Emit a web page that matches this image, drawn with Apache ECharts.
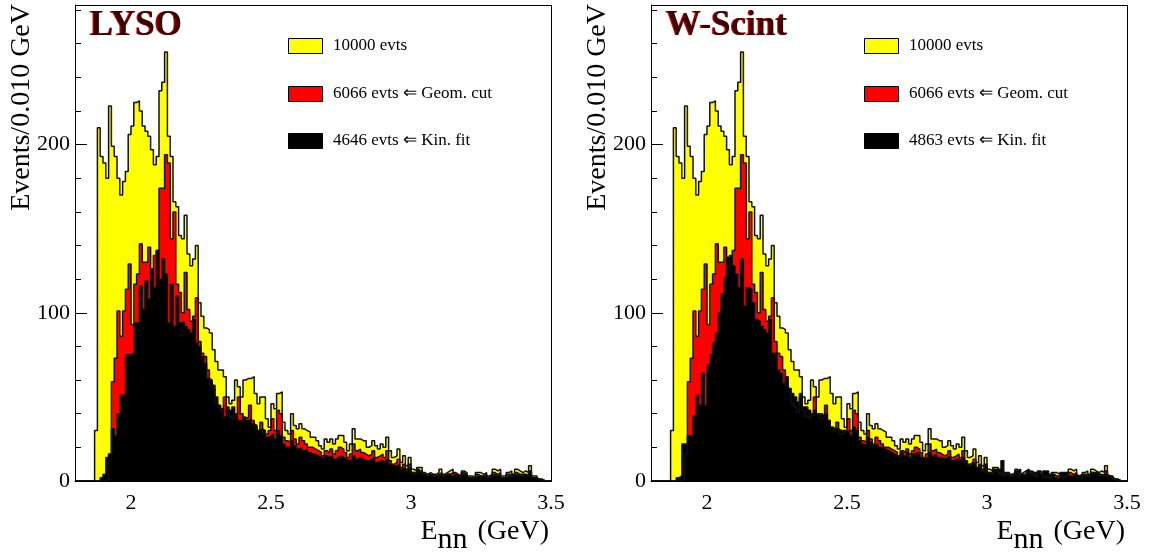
<!DOCTYPE html>
<html><head><meta charset="utf-8">
<script src="https://cdn.jsdelivr.net/npm/echarts@6/dist/echarts.min.js"></script>
<style>html,body{margin:0;padding:0;background:#fff}#c{width:1152px;height:560px}</style>
</head><body><div id="c"></div>
<script>
// histogram binning (bin left edges start at binStart, width binWidth)
const binStart = 1.80, binWidth = 0.01;
const xTickValues = [2, 2.5, 3, 3.5];
const yMajorTicks = [0, 100, 200];
const yMinorTicks = [20, 40, 60, 80, 120, 140, 160, 180, 220, 240, 260, 280];
const yMax = 283;

// 10000 evts (all)
const allEvts = [0,0, 0,0,0,0,0, 30,210,193,189,180, 223,199,193,180,170, 178,184,206,211,225,
 226,220,211,208,205, 197,188,193,232,237, 255,205,193,166,163, 146,144,158,135,128,
 132,140,106,98,91, 90,88,78,71,66, 66,62,50,46,48, 60,56,50,60,61, 61,62,52,46,50,
 50,37,32,46,43, 52,53,35,30,28, 40,33,31,34,31, 30,29,26,26,24, 21,19,25,23,25,
 22,25,27,27,23, 18,22,31,25,25, 24,24,20,21,24, 21,19,22,20,26, 18,14,15,19,11,
 15,9,14,7,6, 8,8,5,4,5, 4,4,5,7,4, 5,6,7,5,4, 3,6,5,3,3, 2,5,5,4,5, 3,4,7,6,7,
 3,3,5,6,4, 7,6,5,6,5, 9,3,3,1,1, 0,0,0];
// 6066 evts <= Geom. cut
const geomCut = [0,0, 0,0,0,0,0,0,0,0,0,0, 16,59,73,101,86, 101,114,129,93,117,
 123,141,130,130,139, 126,134,137,174,174, 194,189,144,160,117, 112,100,124,102,95,
 98,109,83,76,74, 66,57,55,46,44, 41,50,42,38,37, 39,50,40,37,38, 45,36,32,30,35,
 28,28,30,37,30, 42,40,26,24,23, 30,25,22,26,24, 22,20,20,19,18, 17,15,18,17,19,
 16,18,20,19,17, 14,16,22,18,19, 17,16,15,16,18, 14,15,16,14,18, 12,10,11,13,8,
 10,7,10,5,5, 6,6,4,3,4, 3,3,4,5,3, 4,4,5,4,3, 2,5,4,2,2, 2,4,3,3,4, 2,3,5,4,5,
 2,2,4,4,3, 5,4,4,4,3, 6,2,2,1,1, 0,0,0];
// Kin. fit, LYSO (4646 evts)
const kinFitLYSO = [0,0, 0,0,0,0,0,0,0, 2,4,14, 16,31,27,40,51, 51,75,75,76,94,
 94,116,102,119,108, 126,115,137,120,132, 123,94,117,92,110, 94,95,92,90,88,
 96,82,80,74,70, 61,60,57,50,45, 43,38,44,42,44, 40,36,35,38,36, 37,34,33,30,31,
 30,26,27,28,25, 30,27,22,20,20, 24,21,19,20,18, 19,17,16,16,15, 14,13,15,14,15,
 13,14,15,14,13, 12,13,15,13,14, 13,12,12,13,14, 11,12,12,11,13, 10,9,9,10,7,
 8,6,8,5,4, 7,5,4,3,4, 3,3,3,4,3, 4,4,3,4,3, 2,4,3,2,2, 2,3,3,3,3, 2,3,4,3,4,
 2,2,3,3,3, 4,3,3,4,3, 5,2,1,1,0, 0,0,0];
// Kin. fit, W-Scint (4863 evts)
const kinFitWScint = [0,0, 0,0,0,0,0,0,0, 2,3,22, 22,27,26,39,51, 45,64,45,69,75,
 82,88,100,111,121, 133,134,128,123,115, 132,104,115,114,106, 96,95,92,90,88,
 96,76,76,66,64, 58,62,55,52,50, 47,52,44,44,42, 40,42,40,40,39, 40,36,32,31,31,
 30,30,29,30,27, 32,30,24,22,21, 26,23,21,22,20, 20,19,18,17,16, 15,14,17,15,17,
 14,16,17,16,14, 13,14,17,15,16, 14,14,13,14,15, 12,13,13,12,14, 11,9,10,11,8,
 9,6,9,5,4, 7,7,7,12,5, 5,3,4,6,7, 4,3,6,6,5, 5,6,4,6,6, 4,4,2,1,5, 5,5,3,3,4,
 3,4,3,3,3, 5,5,5,3,4, 4,3,2,1,0, 0,0,0];

const panelNames = ['LYSO', 'W-Scint'];
const legendTexts = [
  ['10000 evts', '6066 evts \u21D0 Geom. cut', '4646 evts \u21D0 Kin. fit'],
  ['10000 evts', '6066 evts \u21D0 Geom. cut', '4863 evts \u21D0 Kin. fit']
];
const yTitle = 'Events/0.010 GeV';
const fillColors = ['#ffff00', '#ff0000', '#000000'];
const panelSeries = [[allEvts, geomCut, kinFitLYSO], [allEvts, geomCut, kinFitWScint]];

function toSteps(vals) {
  const pts = vals.map((v, i) => [+(binStart + i * binWidth).toFixed(2), v]);
  pts.push([+(binStart + vals.length * binWidth).toFixed(2), vals[vals.length - 1]]);
  return pts;
}

const FONT = '"Liberation Serif", "Times New Roman", serif';
const panelLeft = [75, 651];
const gTop = 5, gW = 476, gH = 476;

const grid = [], xAxis = [], yAxis = [], series = [], graphic = [];
panelLeft.forEach((L, p) => {
  grid.push({left: L, top: gTop, width: gW, height: gH, show: false});
  xAxis.push({
    type: 'value', gridIndex: p, min: 1.8, max: 3.5,
    axisLine: {show: true, lineStyle: {color: '#000', width: 1}},
    axisTick: {show: false},
    splitLine: {show: false},
    axisLabel: {customValues: xTickValues, formatter: v => String(v), fontFamily: FONT, fontSize: 22, color: '#000', margin: 11}
  });
  yAxis.push({
    type: 'value', gridIndex: p, min: 0, max: yMax,
    axisLine: {show: true, lineStyle: {color: '#000', width: 1}},
    axisTick: {show: true, inside: true, length: 12, customValues: yMajorTicks, lineStyle: {color: '#000'}},
    splitLine: {show: false},
    axisLabel: {customValues: yMajorTicks, fontFamily: FONT, fontSize: 22, color: '#000', margin: 5}
  });
  yAxis.push({
    type: 'value', gridIndex: p, min: 0, max: yMax, position: 'left',
    axisLine: {show: false},
    axisTick: {show: true, inside: true, length: 6, customValues: yMinorTicks, lineStyle: {color: '#000'}},
    splitLine: {show: false},
    axisLabel: {show: false}
  });
  panelSeries[p].forEach((vals, s) => {
    series.push({
      type: 'line', step: 'end', xAxisIndex: p, yAxisIndex: p * 2,
      data: toSteps(vals), symbol: 'none', silent: true,
      lineStyle: {color: '#111', width: 1.5},
      areaStyle: {color: fillColors[s], opacity: 1}
    });
  });
  // frame on top
  graphic.push({type: 'rect', z: 100, shape: {x: L + 0.5, y: gTop + 0.5, width: gW, height: gH},
    style: {fill: 'none', stroke: '#000', lineWidth: 1}});
  // panel label (red shadow under dark text)
  graphic.push({type: 'text', z: 100, x: L + 14, y: 8,
    style: {text: panelNames[p], font: 'bold 35px ' + FONT, fill: '#ff0000', textAlign: 'left', textVerticalAlign: 'top'}});
  graphic.push({type: 'text', z: 101, x: L + 15, y: 8.5,
    style: {text: panelNames[p], font: 'bold 35px ' + FONT, fill: '#3a0000', textAlign: 'left', textVerticalAlign: 'top'}});
  // legend
  const ly = [38, 86, 133];
  legendTexts[p].forEach((t, i) => {
    graphic.push({type: 'rect', z: 100, shape: {x: L + 213.5, y: ly[i] + 0.5, width: 34, height: 15},
      style: {fill: fillColors[i], stroke: '#000', lineWidth: 1}});
    graphic.push({type: 'text', z: 100, x: L + 258, y: ly[i] + 8,
      style: {text: t, font: '17px ' + FONT, fill: '#000', textAlign: 'left', textVerticalAlign: 'middle'}});
  });
  // y title
  graphic.push({type: 'text', z: 100, x: L - 53, y: 4, rotation: Math.PI / 2,
    style: {text: yTitle, font: '28px ' + FONT, fill: '#000', textAlign: 'right', textVerticalAlign: 'middle'}});
  // x title
  graphic.push({type: 'text', z: 100, x: L + 474, y: 509,
    style: {text: '{a|E}{b|nn}{a| (GeV)}', fill: '#000', textAlign: 'right', textVerticalAlign: 'top',
      rich: {a: {fontFamily: FONT, fontSize: 28, lineHeight: 46, verticalAlign: 'middle'},
             b: {fontFamily: FONT, fontSize: 30, verticalAlign: 'bottom', padding: [0, 3, 0, 0]}}}});
});

const chart = echarts.init(document.getElementById('c'), null, {renderer: 'canvas'});
chart.setOption({animation: false, backgroundColor: '#fff', grid, xAxis, yAxis, series, graphic});
</script>
</body></html>
